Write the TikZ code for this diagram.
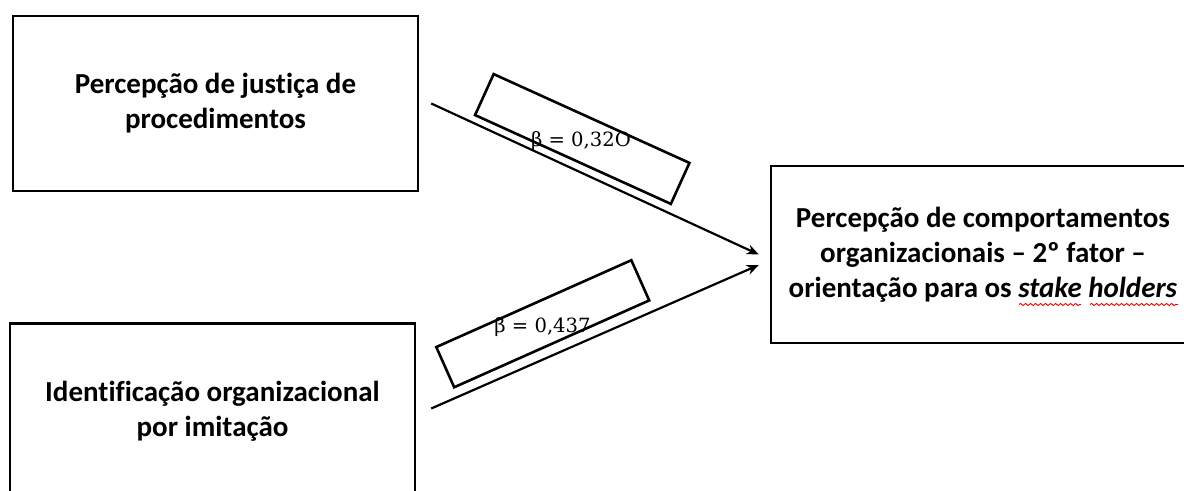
\documentclass[tikz,border=0pt]{standalone}
\usepackage{fontspec}
\setmainfont{Carlito}[Ligatures=NoCommon]
\newfontfamily\betafont{DejaVu Serif}
\usetikzlibrary{arrows.meta, positioning, decorations.pathmorphing}

\begin{document}
\begin{tikzpicture}[x=0.5pt, y=-0.5pt, >={Stealth[length=6pt,width=5pt]},
    box/.style={draw, line width=1.25pt, minimum width=202.5pt, minimum height=87.5pt,
                align=center, font=\bfseries\fontsize{14.5}{17.5}\selectfont},
    wbox/.style={draw, line width=1.3pt, minimum width=107.5pt, minimum height=22.5pt,
                 inner sep=0pt},
    coef/.style={font=\betafont\fontsize{9.8}{11}\selectfont, inner sep=0pt, anchor=base},
    arr/.style={->, line width=1.1pt},
    wavy/.style={red!90!black, line width=0.45pt, decorate,
                 decoration={snake, amplitude=0.5pt, segment length=2.5pt}}
  ]
  \useasboundingbox (0,0) rectangle (1184,491);

  \node[box] (just) at (215.5,103.5) {Percepção de justiça de\\procedimentos};
  \node[box, below=65pt of just, xshift=-1.5pt] (ident) {Identificação organizacional\\por imitação};
  \node[box, minimum width=212pt, minimum height=88.5pt] (comp) at (983,254.5)
    {Percepção de comportamentos\\organizacionais – 2º fator –\\orientação para os
     \textit{stake holders}};

  % spelling marks under the last two words
  \draw[wavy] ([xshift=18pt, yshift=-25pt]comp.center) -- ++(62,0);
  \draw[wavy] ([xshift=53.5pt, yshift=-25pt]comp.center) -- ++(88,0);

  \coordinate (in1) at ([xshift=-5.5pt]comp.west);
  \coordinate (in2) at ([xshift=-5.5pt, yshift=-5.25pt]comp.west);

  \draw[arr] ([xshift=6pt]just.east) -- (in1);
  \draw[arr] ([xshift=7.5pt, yshift=1.25pt]ident.east) -- (in2);

  % coefficient boxes
  \node[wbox, rotate=-24.4] (w1) at (582.25,139) {};
  \node[coef] (b1) at (581,147) {β = 0,32O};
  \node[wbox, rotate=24, minimum width=106.75pt, minimum height=22pt] (w2) at (542.75,323.75) {};
  \node[coef] (b2) at (542.5,333) {β = 0,437};

\end{tikzpicture}
\end{document}
